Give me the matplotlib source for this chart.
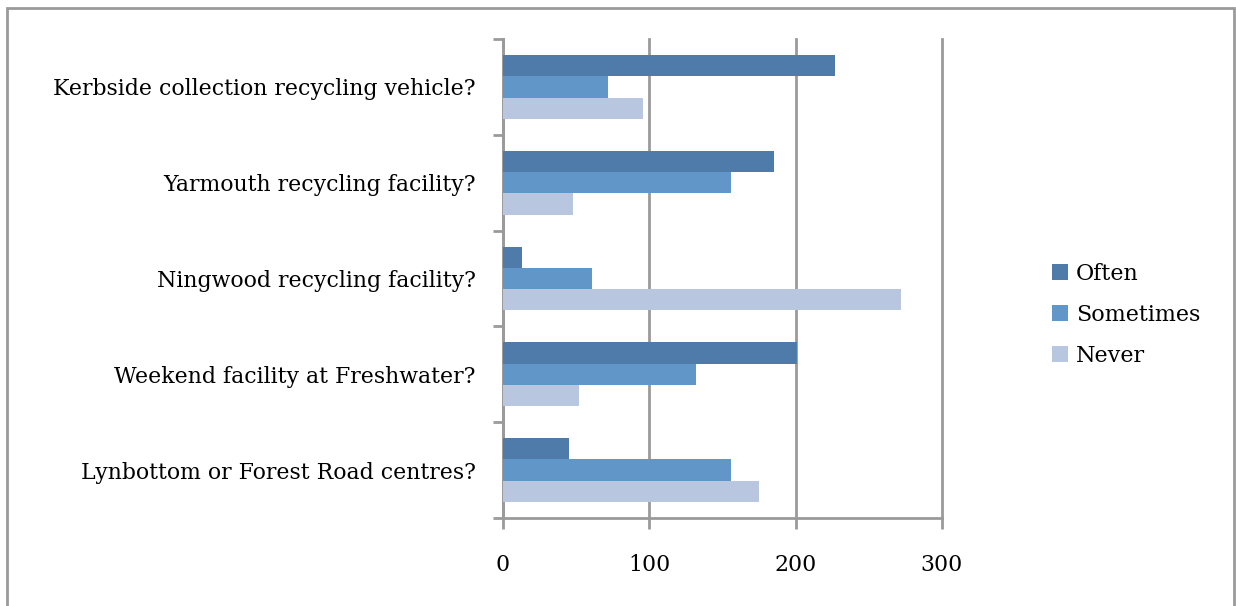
import matplotlib.pyplot as plt
import numpy as np
from matplotlib.patches import Rectangle

# categories listed bottom to top
categories = [
    "Lynbottom or Forest Road centres?",
    "Weekend facility at Freshwater?",
    "Ningwood recycling facility?",
    "Yarmouth recycling facility?",
    "Kerbside collection recycling vehicle?",
]
series_names = ["Often", "Sometimes", "Never"]
often = [45, 201, 13, 185, 227]
sometimes = [156, 132, 61, 156, 72]
never = [175, 52, 272, 48, 96]
x_ticks = [0, 100, 200, 300]

colors = ["#4F7BAB", "#6096C8", "#B8C7DF"]

plt.rcParams['font.family'] = ['DejaVu Serif']

fig = plt.figure(figsize=(12.36, 6.06), dpi=100)
ax = fig.add_axes([0.407, 0.1452, 0.355, 0.7904])

# outer chart border
fig.patches.append(Rectangle((7 / 1236, -0.1), 1227 / 1236, 1.1 - 8 / 606,
                             transform=fig.transFigure, fill=False,
                             edgecolor="#9A9A9A", linewidth=2))

y = np.arange(len(categories))
h = 0.2225
for i, (vals, name) in enumerate(zip([often, sometimes, never], series_names)):
    ax.barh(y + (1 - i) * h, vals, height=h, color=colors[i], label=name, zorder=3)

ax.set_xlim(0, 300)
ax.set_ylim(-0.5, len(categories) - 0.5)
ax.set_xticks(x_ticks)
ax.set_xticklabels([str(t) for t in x_ticks], fontsize=15.8)
ax.set_yticks(y)
ax.set_yticklabels(categories, fontsize=15.8)
ax.tick_params(axis='y', length=0, pad=19.5)
ax.set_yticks(np.arange(-0.5, len(categories), 1), minor=True)
ax.tick_params(axis='y', which='minor', length=7, width=2, color="#9A9A9A")
ax.tick_params(axis='x', length=8, width=2, color="#9A9A9A", pad=18)

ax.grid(axis='x', color="#9A9A9A", linewidth=2, zorder=0)
for gl in ax.get_xgridlines():
    gl.set_clip_on(False)
for s in ['top', 'right']:
    ax.spines[s].set_visible(False)
for s in ['left', 'bottom']:
    ax.spines[s].set_color("#9A9A9A")
    ax.spines[s].set_linewidth(2)

ax.legend(loc='center left', bbox_to_anchor=(1.205, 0.424), frameon=False,
          fontsize=16, handlelength=0.75, handleheight=0.75, handletextpad=0.35,
          labelspacing=0.85)

fig.savefig("out.png", dpi=100)
